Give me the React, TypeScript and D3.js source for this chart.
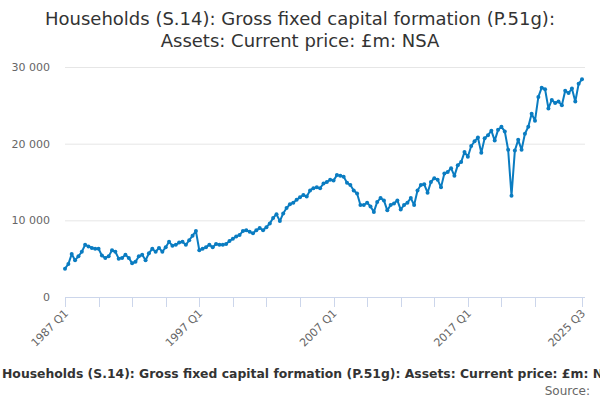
import { useEffect, useRef } from 'react';
import * as d3 from 'd3';

// quarterly values, 1987 Q1 .. 2025 Q3 (£m)
const values1987to1996 = [
  3700, 4300, 5600, 4800, 5300, 5900, 6800, 6600, 6400, 6300,
  6300, 5400, 5100, 5300, 6100, 5900, 5000, 5100, 5500, 5100,
  4400, 4600, 5300, 5500, 4800, 5700, 6300, 5900, 6400, 5900,
  6500, 7200, 6700, 6800, 7100, 7200, 6800, 7400, 8000, 8600,
];
const values1997to2006 = [
  6100, 6300, 6500, 6800, 6500, 6900, 6800, 6800, 6900, 7300,
  7600, 7900, 8100, 8600, 8700, 8500, 8300, 8700, 9000, 8700,
  9100, 9600, 10300, 10800, 9900, 10900, 11600, 12100, 12300, 12700,
  13000, 13300, 13100, 13900, 14200, 14300, 14200, 14800, 15000, 15300,
];
const values2007to2016 = [
  15200, 15900, 15800, 15700, 14900, 14600, 13900, 13500, 12000, 12000,
  12300, 11800, 11100, 12400, 12900, 12600, 11300, 12000, 12200, 12600,
  11400, 12000, 12300, 12900, 12000, 13900, 14600, 14700, 13600, 15000,
  15500, 15300, 14300, 16100, 16300, 16800, 15800, 17200, 17600, 18900,
];
const values2017to2025 = [
  18300, 19700, 20300, 20800, 18800, 20700, 21100, 21700, 20400, 21800,
  22200, 21600, 19200, 13200, 19100, 20500, 19200, 21300, 22200, 23900,
  23000, 26100, 27300, 27100, 24600, 25700, 25300, 25500, 25000, 26900,
  26600, 27200, 25500, 27800, 28400,
];
const values = [...values1987to1996, ...values1997to2006, ...values2007to2016, ...values2017to2025];

const startYear = 1987;
const quarters = values.map((_, i) => `${startYear + Math.floor(i / 4)} Q${(i % 4) + 1}`);

const yTicks = [0, 10000, 20000, 30000];
const tickIdx = [...d3.range(0, 150, 10), values.length - 1];
const labelIdx = [0, 40, 80, 120, values.length - 1];

const titleLines = [
  'Households (S.14): Gross fixed capital formation (P.51g):',
  'Assets: Current price: £m: NSA',
];
const caption = 'Households (S.14): Gross fixed capital formation (P.51g): Assets: Current price: £m: NSA';

const App = () => {
  const ref = useRef<SVGSVGElement>(null);

  useEffect(() => {
    const svg = d3.select(ref.current);
    svg.selectAll('*').remove();
    const width = 600;
    const height = 400;
    const left = 65, right = 585, top = 67, bottom = 297;
    const font = '"DejaVu Sans", Verdana, sans-serif';

    const x = d3.scaleLinear().domain([0, values.length - 1]).range([left, 582]);
    const y = d3.scaleLinear().domain([0, 30000]).range([bottom, top]);

    svg.attr('width', width).attr('height', height);

    // title
    svg.append('g')
      .selectAll('text')
      .data(titleLines)
      .enter()
      .append('text')
      .attr('x', width / 2)
      .attr('y', (_, i) => 25 + i * 22)
      .attr('text-anchor', 'middle')
      .attr('font-family', font)
      .attr('font-size', 18)
      .attr('fill', '#333333')
      .text(d => d);

    // grid
    svg.append('g')
      .selectAll('line')
      .data(yTicks.filter(t => t > 0))
      .enter()
      .append('line')
      .attr('x1', left)
      .attr('x2', right)
      .attr('y1', d => y(d) + 0.5)
      .attr('y2', d => y(d) + 0.5)
      .attr('stroke', '#e6e6e6');

    // y labels
    svg.append('g')
      .selectAll('text')
      .data(yTicks)
      .enter()
      .append('text')
      .attr('x', 50)
      .attr('y', d => y(d) + 4)
      .attr('text-anchor', 'end')
      .attr('font-family', font)
      .attr('font-size', 11)
      .attr('fill', '#666666')
      .text(d => d3.format(',')(d).replace(/,/g, ' '));

    // x axis
    svg.append('line')
      .attr('x1', left)
      .attr('x2', right)
      .attr('y1', bottom + 0.5)
      .attr('y2', bottom + 0.5)
      .attr('stroke', '#ccd6eb');

    svg.append('g')
      .selectAll('line')
      .data(tickIdx)
      .enter()
      .append('line')
      .attr('x1', d => Math.round(x(d)) + 0.5)
      .attr('x2', d => Math.round(x(d)) + 0.5)
      .attr('y1', bottom)
      .attr('y2', bottom + 10)
      .attr('stroke', '#ccd6eb');

    svg.append('g')
      .selectAll('text')
      .data(labelIdx)
      .enter()
      .append('text')
      .attr('transform', d => `translate(${x(d) + 4},${bottom + 17}) rotate(-45)`)
      .attr('text-anchor', 'end')
      .attr('font-family', font)
      .attr('font-size', 11)
      .attr('fill', '#666666')
      .text(d => quarters[d]);

    // series
    const line = d3.line<number>()
      .x((_, i) => x(i))
      .y(d => y(d));

    svg.append('path')
      .datum(values)
      .attr('d', line)
      .attr('fill', 'none')
      .attr('stroke', '#0a7cc1')
      .attr('stroke-width', 2)
      .attr('stroke-linejoin', 'round');

    svg.append('g')
      .selectAll('circle')
      .data(values)
      .enter()
      .append('circle')
      .attr('cx', (_, i) => x(i))
      .attr('cy', d => y(d))
      .attr('r', 2)
      .attr('fill', '#0a7cc1');

    // caption and source
    svg.append('text')
      .attr('x', 2)
      .attr('y', 378)
      .attr('font-family', font)
      .attr('font-size', 12.4)
      .attr('font-weight', 'bold')
      .attr('fill', '#333333')
      .text(caption);

    svg.append('text')
      .attr('x', 590)
      .attr('y', 395)
      .attr('text-anchor', 'end')
      .attr('font-family', font)
      .attr('font-size', 12)
      .attr('fill', '#666666')
      .text('Source:');
  }, []);

  return (
    <div style={{ position: 'absolute', left: 0, top: 0 }}>
      <svg ref={ref}></svg>
    </div>
  );
};

export default App;
